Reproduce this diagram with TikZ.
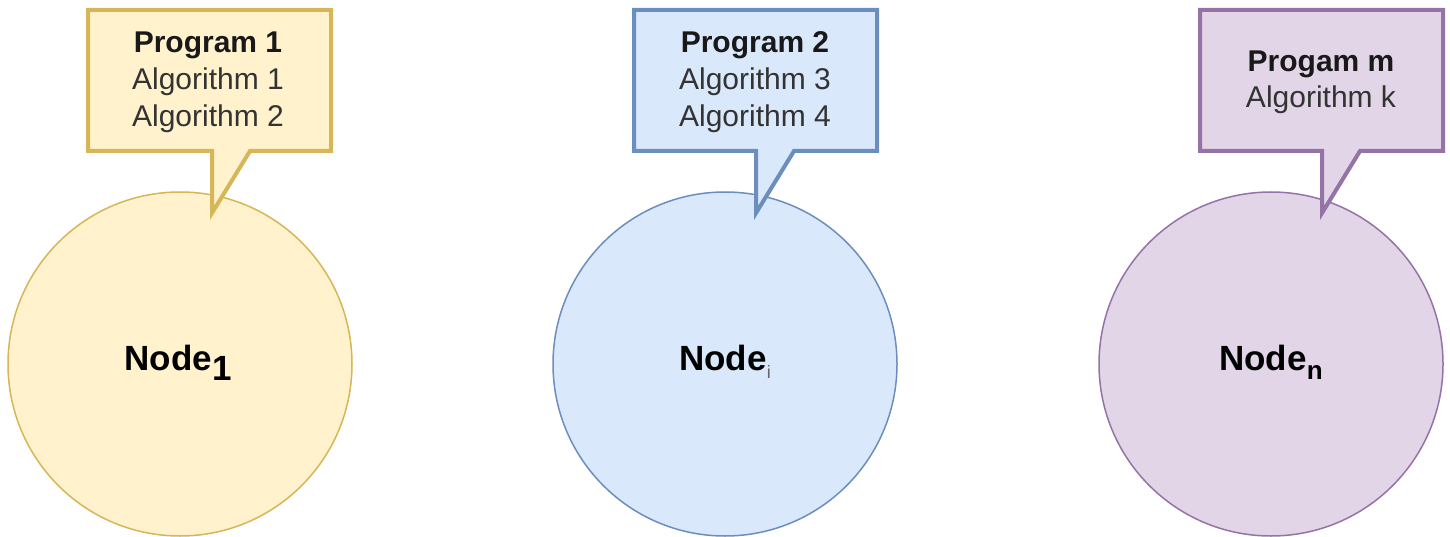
\documentclass[tikz,border=0pt]{standalone}
\usepackage{fontspec}
\setmainfont{Liberation Sans}
\definecolor{yelfill}{HTML}{FFF2CC}
\definecolor{yelline}{HTML}{D6B656}
\definecolor{bluefill}{HTML}{DAE8FC}
\definecolor{blueline}{HTML}{6C8EBF}
\definecolor{purfill}{HTML}{E1D5E7}
\definecolor{purline}{HTML}{9673A6}
\definecolor{algtext}{HTML}{333333}
\tikzset{
  hostnode/.style={circle, minimum size=344pt, inner sep=0pt, line width=1.5pt},
  callout/.style={line width=4pt, line join=miter},
  calltext/.style={anchor=base, inner sep=0pt, align=center,
    font=\fontsize{30}{37}\selectfont},
  hostlabel/.style={anchor=base, inner sep=0pt,
    font=\fontsize{35}{40}\selectfont\bfseries},
}
\newcommand{\progtitle}[1]{{\bfseries\color{black!90}#1}}
\newcommand{\algline}[1]{{\color{algtext}#1}}
\begin{document}
\begin{tikzpicture}[x=1pt,y=-1pt]
  \useasboundingbox (0,0) rectangle (1450,537);

  % host circles
  \node[hostnode, draw=yelline, fill=yelfill] (h1) at (180,364) {};
  \node[hostnode, draw=blueline, fill=bluefill] (h2) at (725,364) {};
  \node[hostnode, draw=purline, fill=purfill] (h3) at (1271,364) {};

  % speech-bubble callouts (box with a pointer down to the host)
  \coordinate (t1) at (212,213);
  \coordinate (t2) at (756,213);
  \coordinate (t3) at (1322,213);
  \draw[callout, draw=yelline, fill=yelfill]
    (88,10) -- (331,10) -- (331,151) -- (250,151) -- (t1) -- (212,151) -- (88,151) -- cycle;
  \draw[callout, draw=blueline, fill=bluefill]
    (634,10) -- (877,10) -- (877,151) -- (794,151) -- (t2) -- (756,151) -- (634,151) -- cycle;
  \draw[callout, draw=purline, fill=purfill]
    (1200,10) -- (1443,10) -- (1443,151) -- (1360,151) -- (t3) -- (1322,151) -- (1200,151) -- cycle;

  % callout texts
  \node[calltext] (p1) at (208,53) {\progtitle{Program 1}};
  \node[calltext] (a1) at (208,90) {\algline{Algorithm 1}};
  \node[calltext] (a2) at (208,127) {\algline{Algorithm 2}};
  \node[calltext] (p2) at (755,53) {\progtitle{Program 2}};
  \node[calltext] (a3) at (755,90) {\algline{Algorithm 3}};
  \node[calltext] (a4) at (755,127) {\algline{Algorithm 4}};
  \node[calltext] (pm) at (1321,72) {\progtitle{Progam m}};
  \node[calltext] (ak) at (1321,108) {\algline{Algorithm k}};

  % host labels
  \node[hostlabel] (l1) at (178,370) {Node\raisebox{-10pt}{1}};
  \node[hostlabel] (l2) at (725,370) {Node\raisebox{-8pt}{\fontsize{18}{20}\selectfont\mdseries\color{black!60}i}};
  \node[hostlabel] (l3) at (1271,370) {Node\raisebox{-9pt}{\fontsize{26}{28}\selectfont n}};
\end{tikzpicture}
\end{document}
